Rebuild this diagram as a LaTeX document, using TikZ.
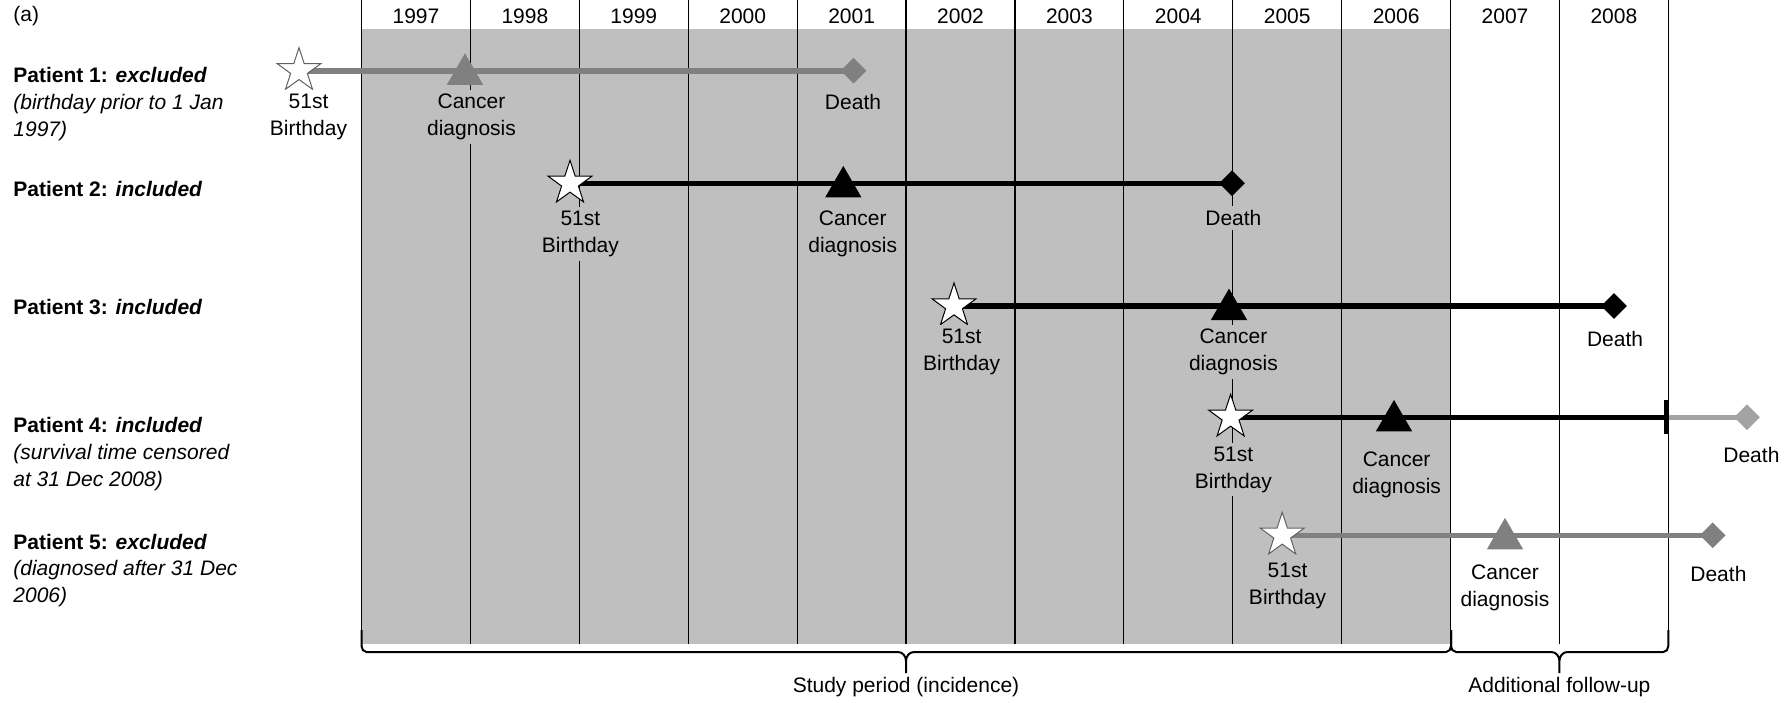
\documentclass[tikz,border=0pt]{standalone}
\usepackage{fontspec}
\setmainfont{Liberation Sans}
\usetikzlibrary{shapes.geometric,positioning}
\definecolor{bgray}{gray}{0.75}
\definecolor{mgray}{gray}{0.5}
\definecolor{lgray}{gray}{0.64}
\definecolor{dgray}{gray}{0.38}
\pgfdeclarelayer{back}
\pgfdeclarelayer{mid}
\pgfsetlayers{back,mid,main}
% curly brace under the time axis: left end, tip, right end
\newcommand{\spanbrace}[3]{%
  \draw[line width=1pt] (#1,630) -- (#1,646) to[out=-90,in=180] (#1+5,652) -- (#2-8,652)
    to[out=0,in=90] (#2,661) -- (#2,673) (#2,661) to[out=90,in=180] (#2+8,652)
    -- (#3-5,652) to[out=0,in=-90] (#3,646) -- (#3,630);}

\begin{document}
\begin{tikzpicture}[x=0.5pt,y=-0.5pt,font=\fontsize{10.5}{13.4}\selectfont,
	bday/.style={star,star points=5,star point ratio=2.6,minimum size=23pt,inner sep=0pt,fill=white,draw=black,line width=0.5pt},
	diag/.style={regular polygon,regular polygon sides=3,minimum size=21pt,inner sep=0pt,yshift=-1.8pt},
	dead/.style={diamond,minimum size=13pt,inner sep=0pt},
	lab/.style={align=center,fill=bgray,inner sep=2pt},
	life/.style={line width=2.8pt},
	yline/.style={line width=0.6pt}]
	\useasboundingbox (0,0) rectangle (1788,702);
	\begin{pgfonlayer}{back}
	\fill[bgray] (361.5,29) rectangle (1451,644);
	\foreach \i in {0,...,12} \draw[yline] (361.5+108.9*\i,0) -- (361.5+108.9*\i,644);
	\end{pgfonlayer}
	\foreach \yy [count=\i from 0] in {1997,...,2008} \node (y\yy) at (416+108.9*\i,16) {\yy};
	\node[anchor=west,inner sep=0pt] (a) at (13,16) {(a)};
	% patients
	\node[anchor=north west,align=left,inner sep=0pt] (p1) at (13,67) {\textbf{Patient 1: \textit{excluded}}\\\textit{(birthday prior to 1 Jan}\\\textit{1997)}};
	\node[anchor=north west,align=left,inner sep=0pt] (p2) at (13,181) {\textbf{Patient 2: \textit{included}}};
	\node[anchor=north west,align=left,inner sep=0pt] (p3) at (13,298.5) {\textbf{Patient 3: \textit{included}}};
	\node[anchor=north west,align=left,inner sep=0pt] (p4) at (13,417) {\textbf{Patient 4: \textit{included}}\\\textit{(survival time censored}\\\textit{at 31 Dec 2008)}};
	\node[anchor=north west,align=left,inner sep=0pt] (p5) at (13,533.5) {\textbf{Patient 5: \textit{excluded}}\\\textit{(diagnosed after 31 Dec}\\\textit{2006)}};
	% patient 1
	\node[bday,draw=dgray] (s1) at (299,70.7) {};
	\node[diag,fill=mgray] (c1) at (465,70.7) {};
	\node[dead,fill=mgray] (d1) at (853.6,70.7) {};
	\node[lab,fill=white] at (308.5,117) {51st\\Birthday};
	\node[lab] at (471.5,117) {Cancer\\diagnosis};
	\node[lab] at (853,101.7) {Death};
	% patient 2
	\node[bday] (s2) at (570,183.3) {};
	\node[diag,fill=black] (c2) at (843.3,183.3) {};
	\node[dead,fill=black] (d2) at (1232,183.3) {};
	\node[lab] at (580.4,234) {51st\\Birthday};
	\node[lab] at (852.7,234) {Cancer\\diagnosis};
	\node[lab] at (1233.4,218) {Death};
	% patient 3
	\node[bday] (s3) at (954,306) {};
	\node[diag,fill=black] (c3) at (1229,306) {};
	\node[dead,fill=black] (d3) at (1614,306) {};
	\node[lab] at (961.6,351.6) {51st\\Birthday};
	\node[lab] at (1233.4,352) {Cancer\\diagnosis};
	\node[lab,fill=white] at (1615,339) {Death};
	% patient 4
	\node[bday] (s4) at (1230.6,417.3) {};
	\node[diag,fill=black] (c4) at (1394,417.3) {};
	\node[fill=black,minimum width=2.5pt,minimum height=17pt,inner sep=0pt] (k4) at (1666.3,417.3) {};
	\node[dead,fill=lgray] (d4) at (1747,417.3) {};
	\node[lab] at (1233.4,469.6) {51st\\Birthday};
	\node[lab] at (1396.6,475) {Cancer\\diagnosis};
	\node[lab,fill=white] at (1751.4,455) {Death};
	% patient 5
	\node[bday,draw=dgray] (s5) at (1282.2,535.3) {};
	\node[diag,fill=mgray] (c5) at (1505,535.3) {};
	\node[dead,fill=mgray] (d5) at (1712.7,535.3) {};
	\node[lab] at (1287.5,586.3) {51st\\Birthday};
	\node[lab,fill=white] at (1505,588) {Cancer\\diagnosis};
	\node[lab,fill=white] at (1718.4,574) {Death};
	\begin{pgfonlayer}{mid}
	\draw[life,mgray] (s1.center) -- (d1.center);
	\draw[life] (s2.center) -- (d2.center);
	\draw[life] (s3.center) -- (d3.center);
	\draw[life] (s4.center) -- (k4.center);
	\draw[life,lgray] (k4.center) -- (d4.center);
	\draw[life,mgray] (s5.center) -- (d5.center);
	\end{pgfonlayer}
	% periods
	\spanbrace{361.5}{906}{1451}
	\spanbrace{1451}{1559.4}{1668.3}
	\node (sp) at (906,687) {Study period (incidence)};
	\node (fu) at (1559.4,687) {Additional follow-up};
\end{tikzpicture}
\end{document}
